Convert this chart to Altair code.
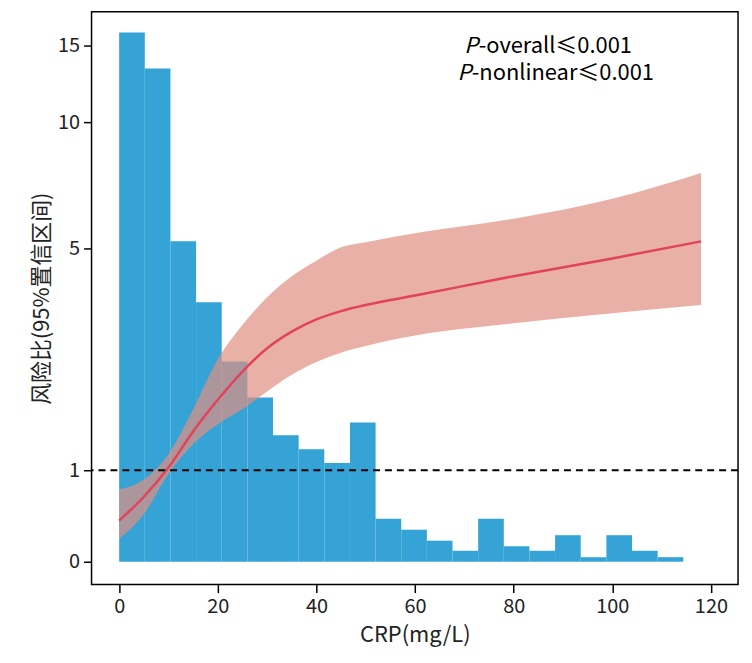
import altair as alt
import pandas as pd

bin_width = 5.2
bin_counts = [15.5, 13.5, 5.28, 4.03, 2.96, 2.31, 1.63, 1.38, 1.13, 1.86, 0.47,
              0.35, 0.23, 0.12, 0.47, 0.17, 0.12, 0.29, 0.05, 0.29, 0.12, 0.05]

crp = [0, 5, 10, 15, 20, 25, 30, 35, 40, 45, 50, 60, 80, 100, 118]
hr = [0.45, 0.71, 1.05, 1.7, 2.27, 2.78, 3.2, 3.5, 3.72, 3.87, 3.98, 4.15, 4.5, 4.82, 5.28]
hr_low = [0.25, 0.52, 0.96, 1.47, 1.83, 2.1, 2.42, 2.72, 2.95, 3.12, 3.24, 3.43, 3.65, 3.83, 3.98]
hr_high = [0.79, 0.9, 1.29, 2.1, 3.0, 3.62, 4.12, 4.5, 4.78, 5.05, 5.25, 5.6, 6.18, 6.97, 7.99]

font = "Noto Sans CJK SC"

bars = pd.DataFrame({
    "x0": [i * bin_width for i in range(len(bin_counts))],
    "x1": [(i + 1) * bin_width for i in range(len(bin_counts))],
    "y": bin_counts,
})
curve = pd.DataFrame({"x": crp, "hr": hr, "lo": hr_low, "hi": hr_high})

xs = alt.Scale(domain=[-5.6, 125.5], nice=False, zero=False)
ys = alt.Scale(domain=[-0.3, 0, 1, 5, 10, 15, 16.3], range=[576, 553, 461, 238, 111, 34, 0])

xax = alt.Axis(values=[0, 20, 40, 60, 80, 100, 120], grid=False, title="CRP(mg/L)", titlePadding=8)
yax = alt.Axis(values=[0, 1, 5, 10, 15], grid=False, title="风险比(95%置信区间)")

hist = alt.Chart(bars).mark_rect(color="#35a3d5").encode(
    x=alt.X("x0:Q", scale=xs, axis=xax), x2="x1:Q",
    y=alt.Y("y:Q", scale=ys, axis=yax), y2=alt.datum(0),
)
band = alt.Chart(curve).mark_area(color="#e08e82", opacity=0.7, interpolate="monotone").encode(
    x=alt.X("x:Q", scale=xs), y=alt.Y("lo:Q", scale=ys), y2="hi:Q"
)
line = alt.Chart(curve).mark_line(color="#e0435a", strokeWidth=2.5, interpolate="monotone").encode(
    x=alt.X("x:Q", scale=xs), y=alt.Y("hr:Q", scale=ys)
)
ref = alt.Chart(pd.DataFrame({"y": [1]})).mark_rule(
    color="black", strokeDash=[7, 5], strokeWidth=2
).encode(y=alt.Y("y:Q", scale=ys))

notes = pd.DataFrame({
    "px": [70.0, 68.6], "tx": [72.9, 71.5], "y": [15.0, 13.2],
    "t": ["-overall≤0.001", "-nonlinear≤0.001"],
})
p_txt = alt.Chart(notes).mark_text(
    text="P", fontStyle="italic", fontSize=22, font=font, align="left"
).encode(x=alt.X("px:Q", scale=xs), y=alt.Y("y:Q", scale=ys))
rest_txt = alt.Chart(notes).mark_text(fontSize=22, font=font, align="left").encode(
    x=alt.X("tx:Q", scale=xs), y=alt.Y("y:Q", scale=ys), text="t:N"
)

chart = (
    alt.layer(hist, band, line, ref, p_txt, rest_txt)
    .properties(width=650, height=576, padding={"left": 22, "top": 2, "right": 5, "bottom": 5})
    .configure_view(stroke="black", strokeWidth=1.5)
    .configure_axis(
        labelFont=font, titleFont=font, labelFontSize=20, titleFontSize=22,
        titleFontWeight="normal", labelColor="#222", titleColor="#222",
        domain=False, tickColor="black", tickSize=8, tickWidth=1.5, labelPadding=4,
    )
)
chart.save("out.html", embed_options={"renderer": "svg", "actions": False})
